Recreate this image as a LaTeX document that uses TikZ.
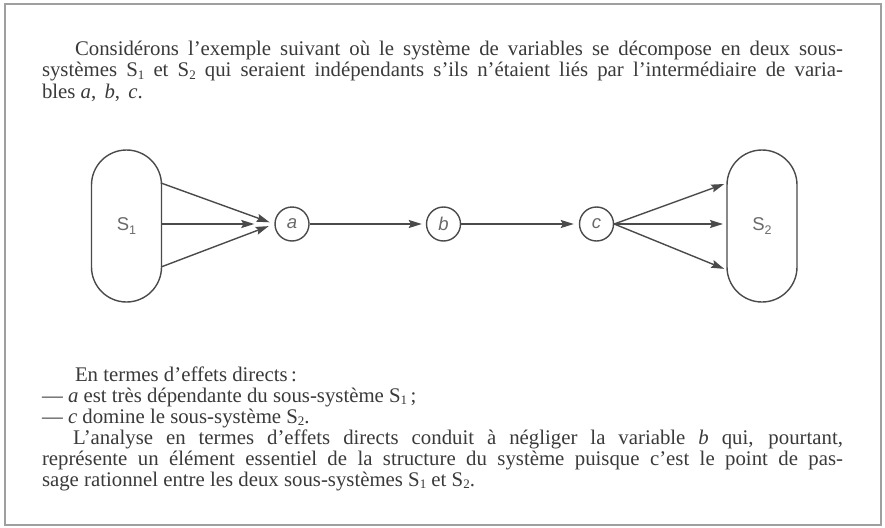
\documentclass[tikz,border=0pt]{standalone}
\usepackage{fontspec}
\setmainfont{Liberation Serif}
\newfontfamily\diagfont{Liberation Sans}
\usetikzlibrary{arrows.meta,calc}
\definecolor{ink}{HTML}{3A3A3A}
\definecolor{lineink}{HTML}{4A4A4A}
\definecolor{labink}{HTML}{6A6A6A}
\newcommand{\mysub}[1]{\raisebox{-0.3ex}{\fontsize{13}{13}\selectfont #1}}
\newcommand{\dsub}[1]{\raisebox{-0.35ex}{\fontsize{12.5}{12.5}\selectfont #1}}
\tikzset{
  txt/.style={anchor=base west,inner sep=0pt,outer sep=0pt,text=ink,font=\fontsize{20.8}{21}\selectfont},
  subsys/.style={draw=lineink,line width=1.4pt,rounded corners=35pt,minimum width=70pt,minimum height=152pt,inner sep=0pt,text=labink,font=\diagfont\fontsize{18.5}{18.5}\selectfont},
  var/.style={circle,draw=lineink,line width=1.4pt,minimum size=34pt,inner sep=0pt,text=labink,font=\diagfont\itshape\fontsize{18.5}{18.5}\selectfont},
  arr/.style={draw=lineink,line width=1.4pt,-{Stealth[length=13pt,width=8pt,inset=2pt]}},
  frame/.style={draw=gray!75,line width=1.6pt}
}
\begin{document}
\begin{tikzpicture}[x=1pt,y=-1pt]
\useasboundingbox (0,0) rectangle (885,527);
\fill[white] (0,0) rectangle (885,527);
\draw[frame] (5,4) rectangle (881,525);

% top paragraph
\node[txt] (t1) at (75,56) {\makebox[768pt][s]{Considérons l'exemple suivant où le système de variables se décompose en deux sous-}};
\node[txt] (t2) at (42,77) {\makebox[801pt][s]{systèmes S\mysub{1} et S\mysub{2} qui seraient indépendants s'ils n'étaient liés par l'intermédiaire de varia-}};
\node[txt] (t3) at (42,98) {bles \textit{a}, \hspace{3pt}\textit{b}, \hspace{3pt}\textit{c}.};

% diagram
\node[subsys] (S1) at (126.5,226) {S\dsub{1}};
\node[subsys] (S2) at (762,226) {S\dsub{2}};
\node[var] (a) at (292,224) {a};
\node[var] (b) at (443.5,224) {b};
\node[var] (c) at (596.5,224) {c};

\coordinate (s1t) at (161,183);
\coordinate (s1m) at (161,224);
\coordinate (s1b) at (161,267);
\coordinate (s2t) at (727,183);
\coordinate (s2m) at (727,224);
\coordinate (s2b) at (727,270);

\draw[arr,shorten >=5pt] (s1t) -- (a.west);
\draw[arr,shorten >=20pt] (s1m) -- (a.west);
\draw[arr,shorten >=6pt] (s1b) -- (a.west);
\draw[arr,shorten >=4pt] (a.east) -- (b.west);
\draw[arr,shorten >=5pt] (b.east) -- (c.west);
\draw[arr,shorten >=3pt] (c.east) -- (s2t);
\draw[arr,shorten >=4pt] (c.east) -- (s2m);
\draw[arr,shorten >=3pt] (c.east) -- (s2b);

% bottom paragraph
\node[txt] (u1) at (75,381) {En termes d'effets directs\,:};
\node[txt] (u2) at (42,402) {— \textit{a} est très dépendante du sous-système S\mysub{1}\,;};
\node[txt] (u3) at (42,423) {— \textit{c} domine le sous-système S\mysub{2}.};
\node[txt] (u4) at (73,444) {\makebox[770pt][s]{L'analyse en termes d'effets directs conduit à négliger la variable \textit{b} qui, pourtant,}};
\node[txt] (u5) at (42,465) {\makebox[801pt][s]{représente un élément essentiel de la structure du système puisque c'est le point de pas-}};
\node[txt] (u6) at (42,486) {sage rationnel entre les deux sous-systèmes S\mysub{1} et S\mysub{2}.};
\end{tikzpicture}
\end{document}
